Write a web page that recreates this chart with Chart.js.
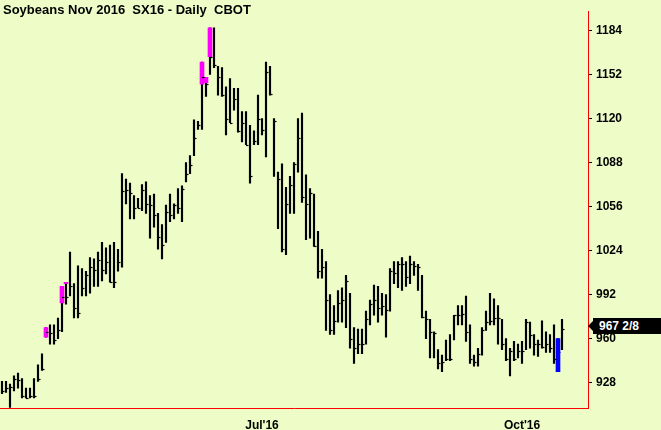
<!DOCTYPE html>
<html>
<head>
<meta charset="utf-8">
<script src="https://cdn.jsdelivr.net/npm/chart.js@4"></script>
<style>
  body { margin: 0; background: #eefcc8; }
  #wrap { position: relative; width: 661px; height: 430px; }
  #title { position: absolute; left: 3px; top: 2px; font: bold 13px Arial, "Liberation Sans", sans-serif; color: #000; }
  #last { position: absolute; left: 593px; top: 318px; width: 68px; height: 16px; background: #000; color: #fff;
          font: bold 12px Arial, "Liberation Sans", sans-serif; line-height: 16px; padding-left: 6px; box-sizing: border-box; }
  #last:before { content: ""; position: absolute; left: -5px; top: 3px; border-right: 5px solid #000; border-top: 5px solid transparent; border-bottom: 5px solid transparent; }
</style>
</head>
<body>
<div id="wrap">
  <canvas id="c" width="661" height="430"></canvas>
  <div id="title">Soybeans Nov 2016&nbsp; SX16 - Daily&nbsp; CBOT</div>
  <div id="last">967 2/8</div>
</div>
<script>
// Tagesbalken: Hoch, Tief, Schluss
const highs = [929,929,927,933,935,931,924,924,931,941,949,968,970,970,975,998,1001,1023,1000,1013,
  1011,1009,1019,1018,1023,1030,1026,1028,1030,1025,1080,1076,1073,1064,1062,1072,1074,1064,1065,1051,
  1043,1057,1065,1058,1069,1071,1088,1093,1119,1118,1161,1150,1186,1186,1158,1157,1143,1149,1142,1142,
  1125,1125,1115,1111,1137,1120,1161,1158,1120,1081,1087,1070,1078,1088,1120,1124,1079,1069,1065,1038,
  1025,1016,992,984,995,997,1006,993,968,967,967,980,988,999,998,993,992,1011,1016,1016,
  1019,1016,1020,1016,1014,1006,980,974,965,952,948,959,963,977,984,984,991,970,948,953,
  968,980,993,989,984,974,960,953,958,956,958,974,972,963,959,973,965,963,970,960,974];
const lows = [920,921,910,922,924,917,917,917,917,929,937,961,956,956,960,965,985,991,975,975,
  991,991,993,998,998,1002,1007,1001,997,1009,1012,1058,1047,1047,1055,1053,1051,1033,1041,1025,
  1018,1030,1045,1047,1051,1045,1074,1080,1093,1112,1112,1136,1152,1157,1137,1136,1108,1117,1126,1110,
  1103,1101,1073,1101,1101,1108,1092,1137,1078,1040,1023,1021,1051,1051,1081,1059,1032,1033,1027,1004,
  1004,966,963,963,972,972,968,953,942,949,949,956,970,977,972,977,961,980,1000,997,
  995,998,1000,1006,995,975,960,946,946,938,936,944,944,959,970,970,958,942,940,940,
  948,966,970,970,956,952,944,933,944,946,942,952,953,948,947,953,950,950,942,936,952];
const closes = [922,924,925,931,930,918,917,918,918,931,938,965,964,959,966,990,990,998,982,979,
  997,1006,1012,1010,1017,1010,1016,1001,1001,1016,1067,1068,1066,1055,1055,1068,1058,1057,1050,1034,
  1028,1052,1050,1057,1055,1069,1080,1086,1106,1115,1150,1145,1165,1159,1150,1137,1120,1117,1134,1111,
  1117,1101,1078,1104,1120,1112,1154,1138,1118,1076,1025,1058,1072,1087,1106,1063,1058,1066,1027,1009,
  1012,988,966,973,986,988,1002,960,953,956,956,974,985,988,982,984,981,1009,1008,1014,
  1014,1005,1014,1013,1012,976,974,965,964,942,943,945,945,977,977,978,965,945,943,949,
  966,972,973,975,975,956,945,951,945,951,951,972,963,956,956,954,956,953,945,950,967.25];
// hervorgehobene Abschnitte (Index -> [von, bis], Farbe)
const markRanges = {11: [961, 968], 15: [986, 998], 16: [1000, 1001], 50: [1145, 1161], 51: [1146, 1150], 52: [1165, 1186], 139: [936, 960]};
const markColors = {11: "#ff00ff", 15: "#ff00ff", 16: "#ff00ff", 50: "#ff00ff", 51: "#ff00ff", 52: "#ff00ff", 139: "#0000ff"};
// Achsenbeschriftungen
const xTickLabels = {65: "Jul'16", 130: "Oct'16"};
const yTicks = [928, 960, 992, 1024, 1056, 1088, 1120, 1152, 1184];
const slots = 147; // Platz rechts neben dem letzten Balken

const labels = [];
for (let i = 0; i < slots; i++) labels.push(xTickLabels[i] || "");

const baseData = highs.map((h, i) => [lows[i], h]);
const markData = highs.map((h, i) => markRanges[i] || null);

// Schlusskurs-Striche rechts am Balken
const closeTicks = {
  id: "closeTicks",
  afterDatasetsDraw(chart) {
    const ctx = chart.ctx, xs = chart.scales.x, ys = chart.scales.y;
    ctx.save();
    ctx.lineWidth = 1.2;
    closes.forEach((c, i) => {
      const x = xs.getPixelForValue(i), y = Math.round(ys.getPixelForValue(c)) + 0.5;
      ctx.strokeStyle = i === 139 ? "#0000ff" : "#000";
      ctx.beginPath(); ctx.moveTo(x, y); ctx.lineTo(x + 2.5, y); ctx.stroke();
    });
    ctx.restore();
  }
};

new Chart(document.getElementById("c"), {
  type: "bar",
  data: {
    labels: labels,
    datasets: [
      { data: markData, backgroundColor: highs.map((h, i) => markColors[i] || "#000"), barThickness: 4, grouped: false, order: 1 },
      { data: baseData, backgroundColor: "#000", barThickness: 1.5, grouped: false, order: 2 }
    ]
  },
  options: {
    responsive: false,
    animation: false,
    layout: { padding: 0 },
    plugins: { legend: { display: false }, tooltip: { enabled: false } },
    scales: {
      x: {
        grid: { display: false },
        border: { color: "#ff0000", width: 1 },
        ticks: { autoSkip: false, maxRotation: 0, color: "#000", padding: 2,
                 font: { family: "Arial, 'Liberation Sans'", size: 12, weight: "bold" },
                 callback: (v, i) => labels[i] },
        afterFit: s => { s.height = 22; }
      },
      y: {
        position: "right",
        min: 909.6, max: 1198,
        grid: { drawOnChartArea: false, color: "#000", tickLength: 4 },
        border: { color: "#ff0000", width: 1 },
        afterBuildTicks: s => { s.ticks = yTicks.map(v => ({ value: v })); },
        ticks: { color: "#000", padding: 4, font: { family: "Arial, 'Liberation Sans'", size: 12, weight: "bold" },
                 callback: v => String(v) },
        afterFit: s => { s.width = 73; }
      }
    }
  },
  plugins: [closeTicks]
});
</script>
</body>
</html>
